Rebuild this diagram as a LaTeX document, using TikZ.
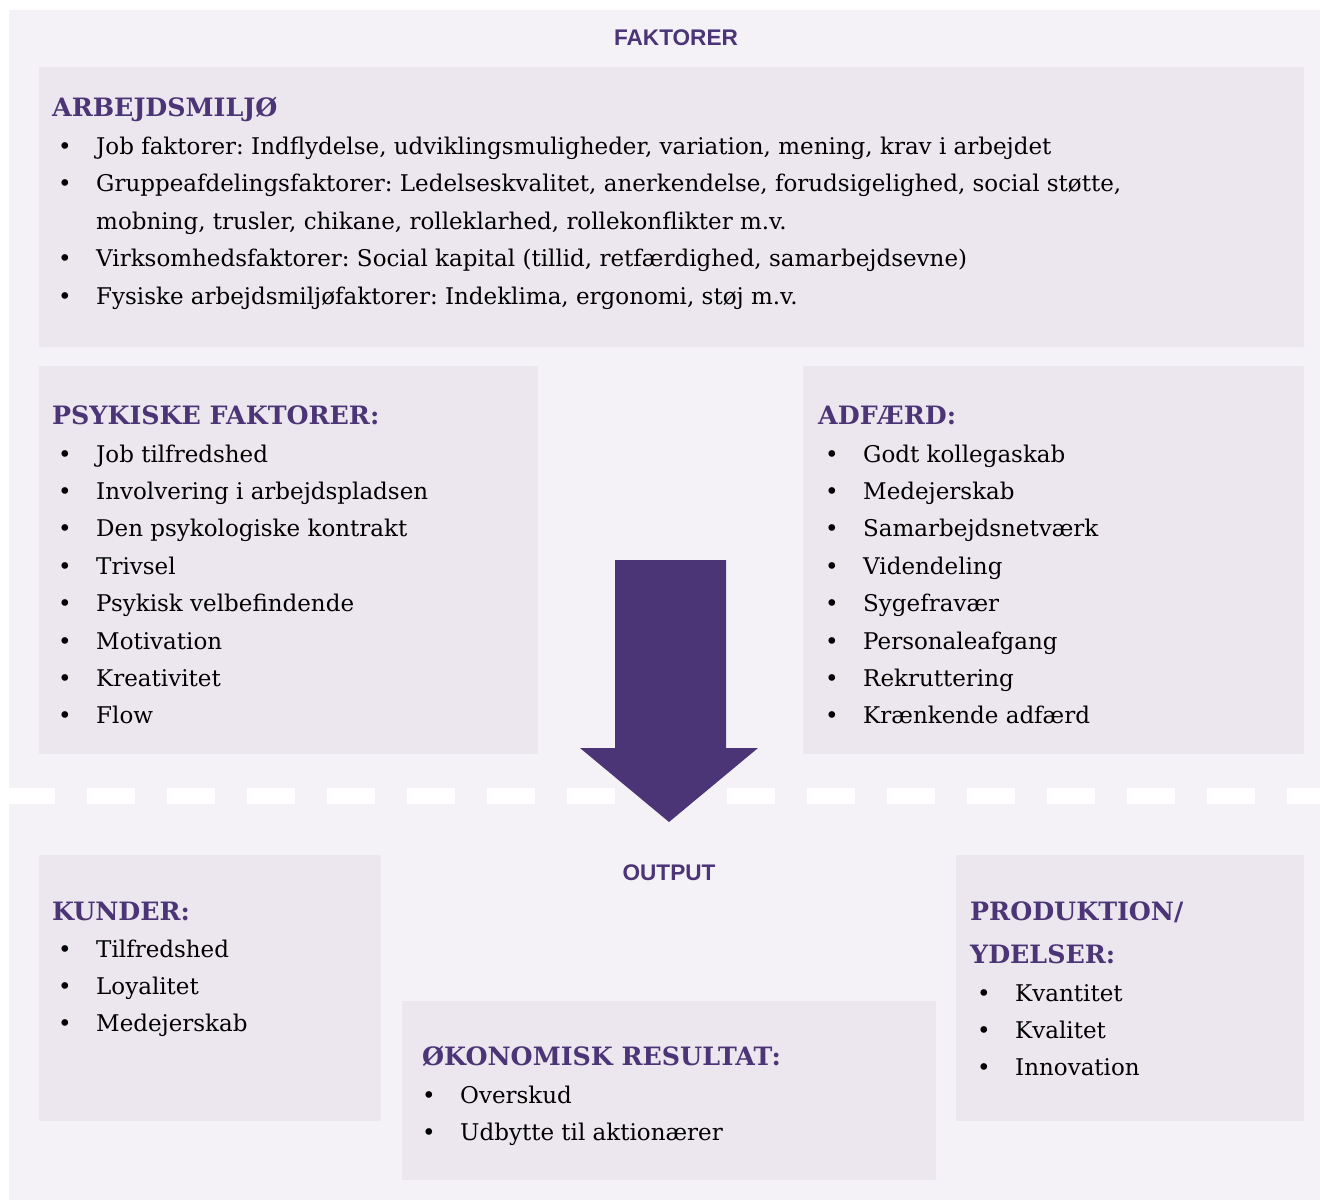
\documentclass[tikz,border=0pt]{standalone}
\usepackage{fontspec}
\setmainfont{DejaVu Serif}
\newfontfamily\labfont{Liberation Sans}
\frenchspacing
\definecolor{panel}{HTML}{F4F2F7}
\definecolor{boxc}{HTML}{ECE6EE}
\definecolor{purp}{HTML}{4B3577}
\tikzset{
  boxbg/.style={fill=boxc, draw=none, anchor=north west, inner sep=0pt, outer sep=0pt},
  head/.style={anchor=base west, inner sep=0pt, text=purp, font=\fontsize{25.3}{25.3}\selectfont\bfseries},
  item/.style={anchor=base west, inner sep=0pt, font=\fontsize{23}{23}\selectfont},
  lab/.style={anchor=base, inner sep=0pt, text=purp, font=\labfont\bfseries\fontsize{22.6}{22.6}\selectfont},
}
\newcommand{\mylist}[5]{% name, bullet x, text x, first baseline, items
  \foreach \t [count=\i] in {#5} {
    \node[item] (#1b\i) at (#2,{#4+(\i-1)*37.4}) {•};
    \node[item] (#1t\i) at (#3,{#4+(\i-1)*37.4}) {\t};
  }
}
\begin{document}
\begin{tikzpicture}[x=1pt,y=-1pt]
\useasboundingbox (0,0) rectangle (1320,1200);
% panels
\fill[panel] (9,10) rectangle (1320,1200);
\draw[white, line width=16pt, dash pattern=on 48pt off 32pt] (7,796) -- (1320,796);
% labels
\node[lab] (faktorer) at (676,45) {FAKTORER};
\node[lab] (output) at (669,880) {OUTPUT};
% boxes
\node[boxbg, minimum width=1265pt, minimum height=280pt] (arb) at (39,67) {};
\node[boxbg, minimum width=499pt, minimum height=388pt] (psy) at (39,366) {};
\node[boxbg, minimum width=501pt, minimum height=388pt] (adf) at (803,366) {};
\node[boxbg, minimum width=342pt, minimum height=266pt] (kun) at (39,855) {};
\node[boxbg, minimum width=534pt, minimum height=179pt] (oko) at (402,1001) {};
\node[boxbg, minimum width=348pt, minimum height=266pt] (pro) at (956,855) {};
% ARBEJDSMILJØ
\node[head] (arbh) at (52,116) {ARBEJDSMILJØ};
\node[item] (arbb1) at (58,154) {•};
\node[item] (arbt1) at (96,154) {Job faktorer: Indflydelse, udviklingsmuligheder, variation, mening, krav i arbejdet};
\node[item] (arbb2) at (58,191.5) {•};
\node[item] (arbt2) at (96,191.5) {Gruppeafdelingsfaktorer: Ledelseskvalitet, anerkendelse, forudsigelighed, social støtte,};
\node[item] (arbt2b) at (96,229) {mobning, trusler, chikane, rolleklarhed, rollekonflikter m.v.};
\node[item] (arbb3) at (58,266.5) {•};
\node[item] (arbt3) at (96,266.5) {Virksomhedsfaktorer: Social kapital (tillid, retfærdighed, samarbejdsevne)};
\node[item] (arbb4) at (58,304) {•};
\node[item] (arbt4) at (96,304) {Fysiske arbejdsmiljøfaktorer: Indeklima, ergonomi, støj m.v.};
% PSYKISKE
\node[head] (psyh) at (52,424) {PSYKISKE FAKTORER:};
\mylist{psy}{58}{96}{462}{{Job tilfredshed},{Involvering i arbejdspladsen},{Den psykologiske kontrakt},{Trivsel},{Psykisk velbefindende},{Motivation},{Kreativitet},{Flow}}
% ADFÆRD
\node[head] (adfh) at (818,424) {ADFÆRD:};
\mylist{adf}{825}{863}{462}{{Godt kollegaskab},{Medejerskab},{Samarbejdsnetværk},{Videndeling},{Sygefravær},{Personaleafgang},{Rekruttering},{Krænkende adfærd}}
% KUNDER
\node[head] (kunh) at (52,920) {KUNDER:};
\mylist{kun}{58}{96}{957}{{Tilfredshed},{Loyalitet},{Medejerskab}}
% PRODUKTION
\node[head] (proh) at (970,920) {PRODUKTION/};
\node[head] (proh2) at (970,963) {YDELSER:};
\mylist{pro}{977}{1015}{1001}{{Kvantitet},{Kvalitet},{Innovation}}
% ØKONOMISK
\node[head] (okoh) at (422,1065) {ØKONOMISK RESULTAT:};
\mylist{oko}{422}{460}{1103}{{Overskud},{Udbytte til aktionærer}}
% arrow
\fill[purp] (615,560) -- (726,560) -- (726,748) -- (758,748) -- (669,822) -- (580,748) -- (615,748) -- cycle;
\end{tikzpicture}
\end{document}
